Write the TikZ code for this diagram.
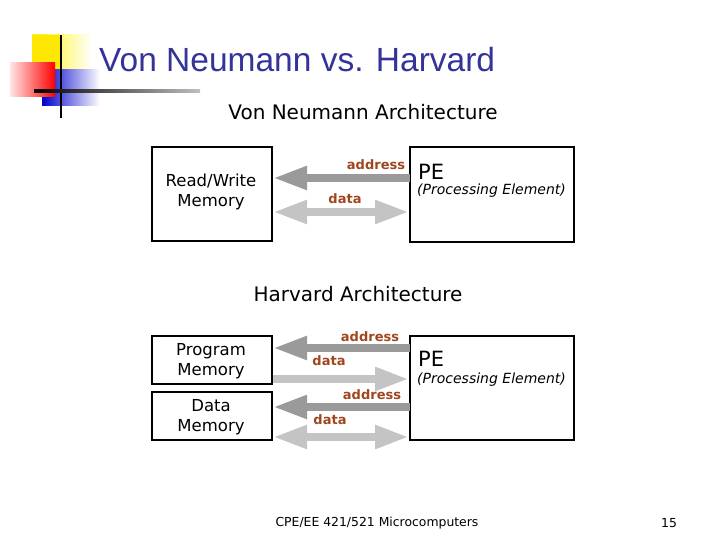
\documentclass[tikz,border=0pt]{standalone}
\usepackage{fontspec}
\setmainfont{DejaVu Sans}
\newfontfamily\titlefont{Liberation Sans}
\usetikzlibrary{arrows.meta}
\definecolor{tblue}{HTML}{333399}
\definecolor{lbl}{HTML}{A0461E}
\definecolor{dgray}{HTML}{9A9A9A}
\definecolor{lgray}{HTML}{C4C4C4}
\begin{document}
\begin{tikzpicture}[x=1pt,y=-1pt,
  box/.style={draw,line width=2.5pt,inner sep=0pt},
  lab/.style={text=lbl,font=\fontsize{13}{13}\selectfont\bfseries,inner sep=0pt},
  memtxt/.style={font=\fontsize{16.5}{20}\selectfont,align=center,inner sep=0pt},
  addr/.style={draw=dgray,line width=8pt,-{Triangle[length=34pt,width=22pt]}},
  dat/.style={draw=lgray,line width=8pt,-{Triangle[length=34pt,width=22pt]}},
  dat2/.style={draw=lgray,line width=8pt,{Triangle[length=34pt,width=22pt]}-{Triangle[length=34pt,width=22pt]}}]
\useasboundingbox (0,0) rectangle (720,540);
% logo
\shade[left color=yellow!90!orange,right color=white] (32,35) rectangle (92,72);
\fill[yellow!90!orange] (32,35) rectangle (60,72);
\shade[left color=blue!80!black,right color=white] (42,70) rectangle (100,106);
\shade[left color=red!10,right color=red] (10,63) rectangle (55,97);
\draw[line width=2pt] (61,35) -- (61,118);
\shade[left color=black,right color=gray!50] (34,90) rectangle (200,93);
\node[anchor=west,text=tblue,font=\titlefont\fontsize{33.5}{33.5}\selectfont,inner sep=0pt] (title) at (99,60) {Von Neumann vs. Harvard};
% Von Neumann
\node[font=\fontsize{20}{20}\selectfont,inner sep=0pt] (vn) at (363,112) {Von Neumann Architecture};
\node[box,minimum width=120pt,minimum height=94pt] (mem) at (212,194) {};
\node[memtxt] at (211,192) {Read/Write\\Memory};
\node[box,minimum width=164pt,minimum height=95pt] (pe) at (492,194.5) {};
\node[anchor=west,font=\fontsize{21}{21}\selectfont,inner sep=0pt] (pet) at (418,172) {PE};
\node[anchor=west,font=\fontsize{14}{14}\selectfont\itshape,inner sep=0pt] (pes) at (417,191) {(Processing Element)};
\coordinate (a1s) at (410,178); \coordinate (a1e) at (273,178);
\draw[addr] (a1s) -- (a1e);
\coordinate (d1s) at (273,212); \coordinate (d1e) at (409,212);
\draw[dat2] (d1s) -- (d1e);
\node[lab] (la1) at (376,165) {address};
\node[lab] (ld1) at (345,199) {data};
% Harvard
\node[font=\fontsize{20}{20}\selectfont,inner sep=0pt] (hv) at (358,294) {Harvard Architecture};
\node[box,minimum width=120pt,minimum height=48pt] (pm) at (212,360) {};
\node[memtxt] at (211,361) {Program\\Memory};
\node[box,minimum width=120pt,minimum height=48pt] (dm) at (212,416) {};
\node[memtxt] at (211,417) {Data\\Memory};
\node[box,minimum width=164pt,minimum height=104pt] (pe2) at (492,388) {};
\node[anchor=west,font=\fontsize{21}{21}\selectfont,inner sep=0pt] (pet2) at (418,359) {PE};
\node[anchor=west,font=\fontsize{14}{14}\selectfont\itshape,inner sep=0pt] (pes2) at (417,380) {(Processing Element)};
\coordinate (a2s) at (410,348); \coordinate (a2e) at (273,348);
\draw[addr] (a2s) -- (a2e);
\coordinate (d2s) at (273,379); \coordinate (d2e) at (409,379);
\draw[dat] (d2s) -- (d2e);
\coordinate (a3s) at (410,407); \coordinate (a3e) at (273,407);
\draw[addr] (a3s) -- (a3e);
\coordinate (d3s) at (273,437); \coordinate (d3e) at (409,437);
\draw[dat2] (d3s) -- (d3e);
\node[lab] (la2) at (370,337) {address};
\node[lab] (ld2) at (329,361) {data};
\node[lab] (la3) at (372,395) {address};
\node[lab] (ld3) at (330,420) {data};
% footer
\node[font=\fontsize{12.4}{12.4}\selectfont,inner sep=0pt] (ft) at (377,523) {CPE/EE 421/521 Microcomputers};
\node[font=\fontsize{12.4}{12.4}\selectfont,inner sep=0pt] (pg) at (669,523) {15};
\end{tikzpicture}
\end{document}
